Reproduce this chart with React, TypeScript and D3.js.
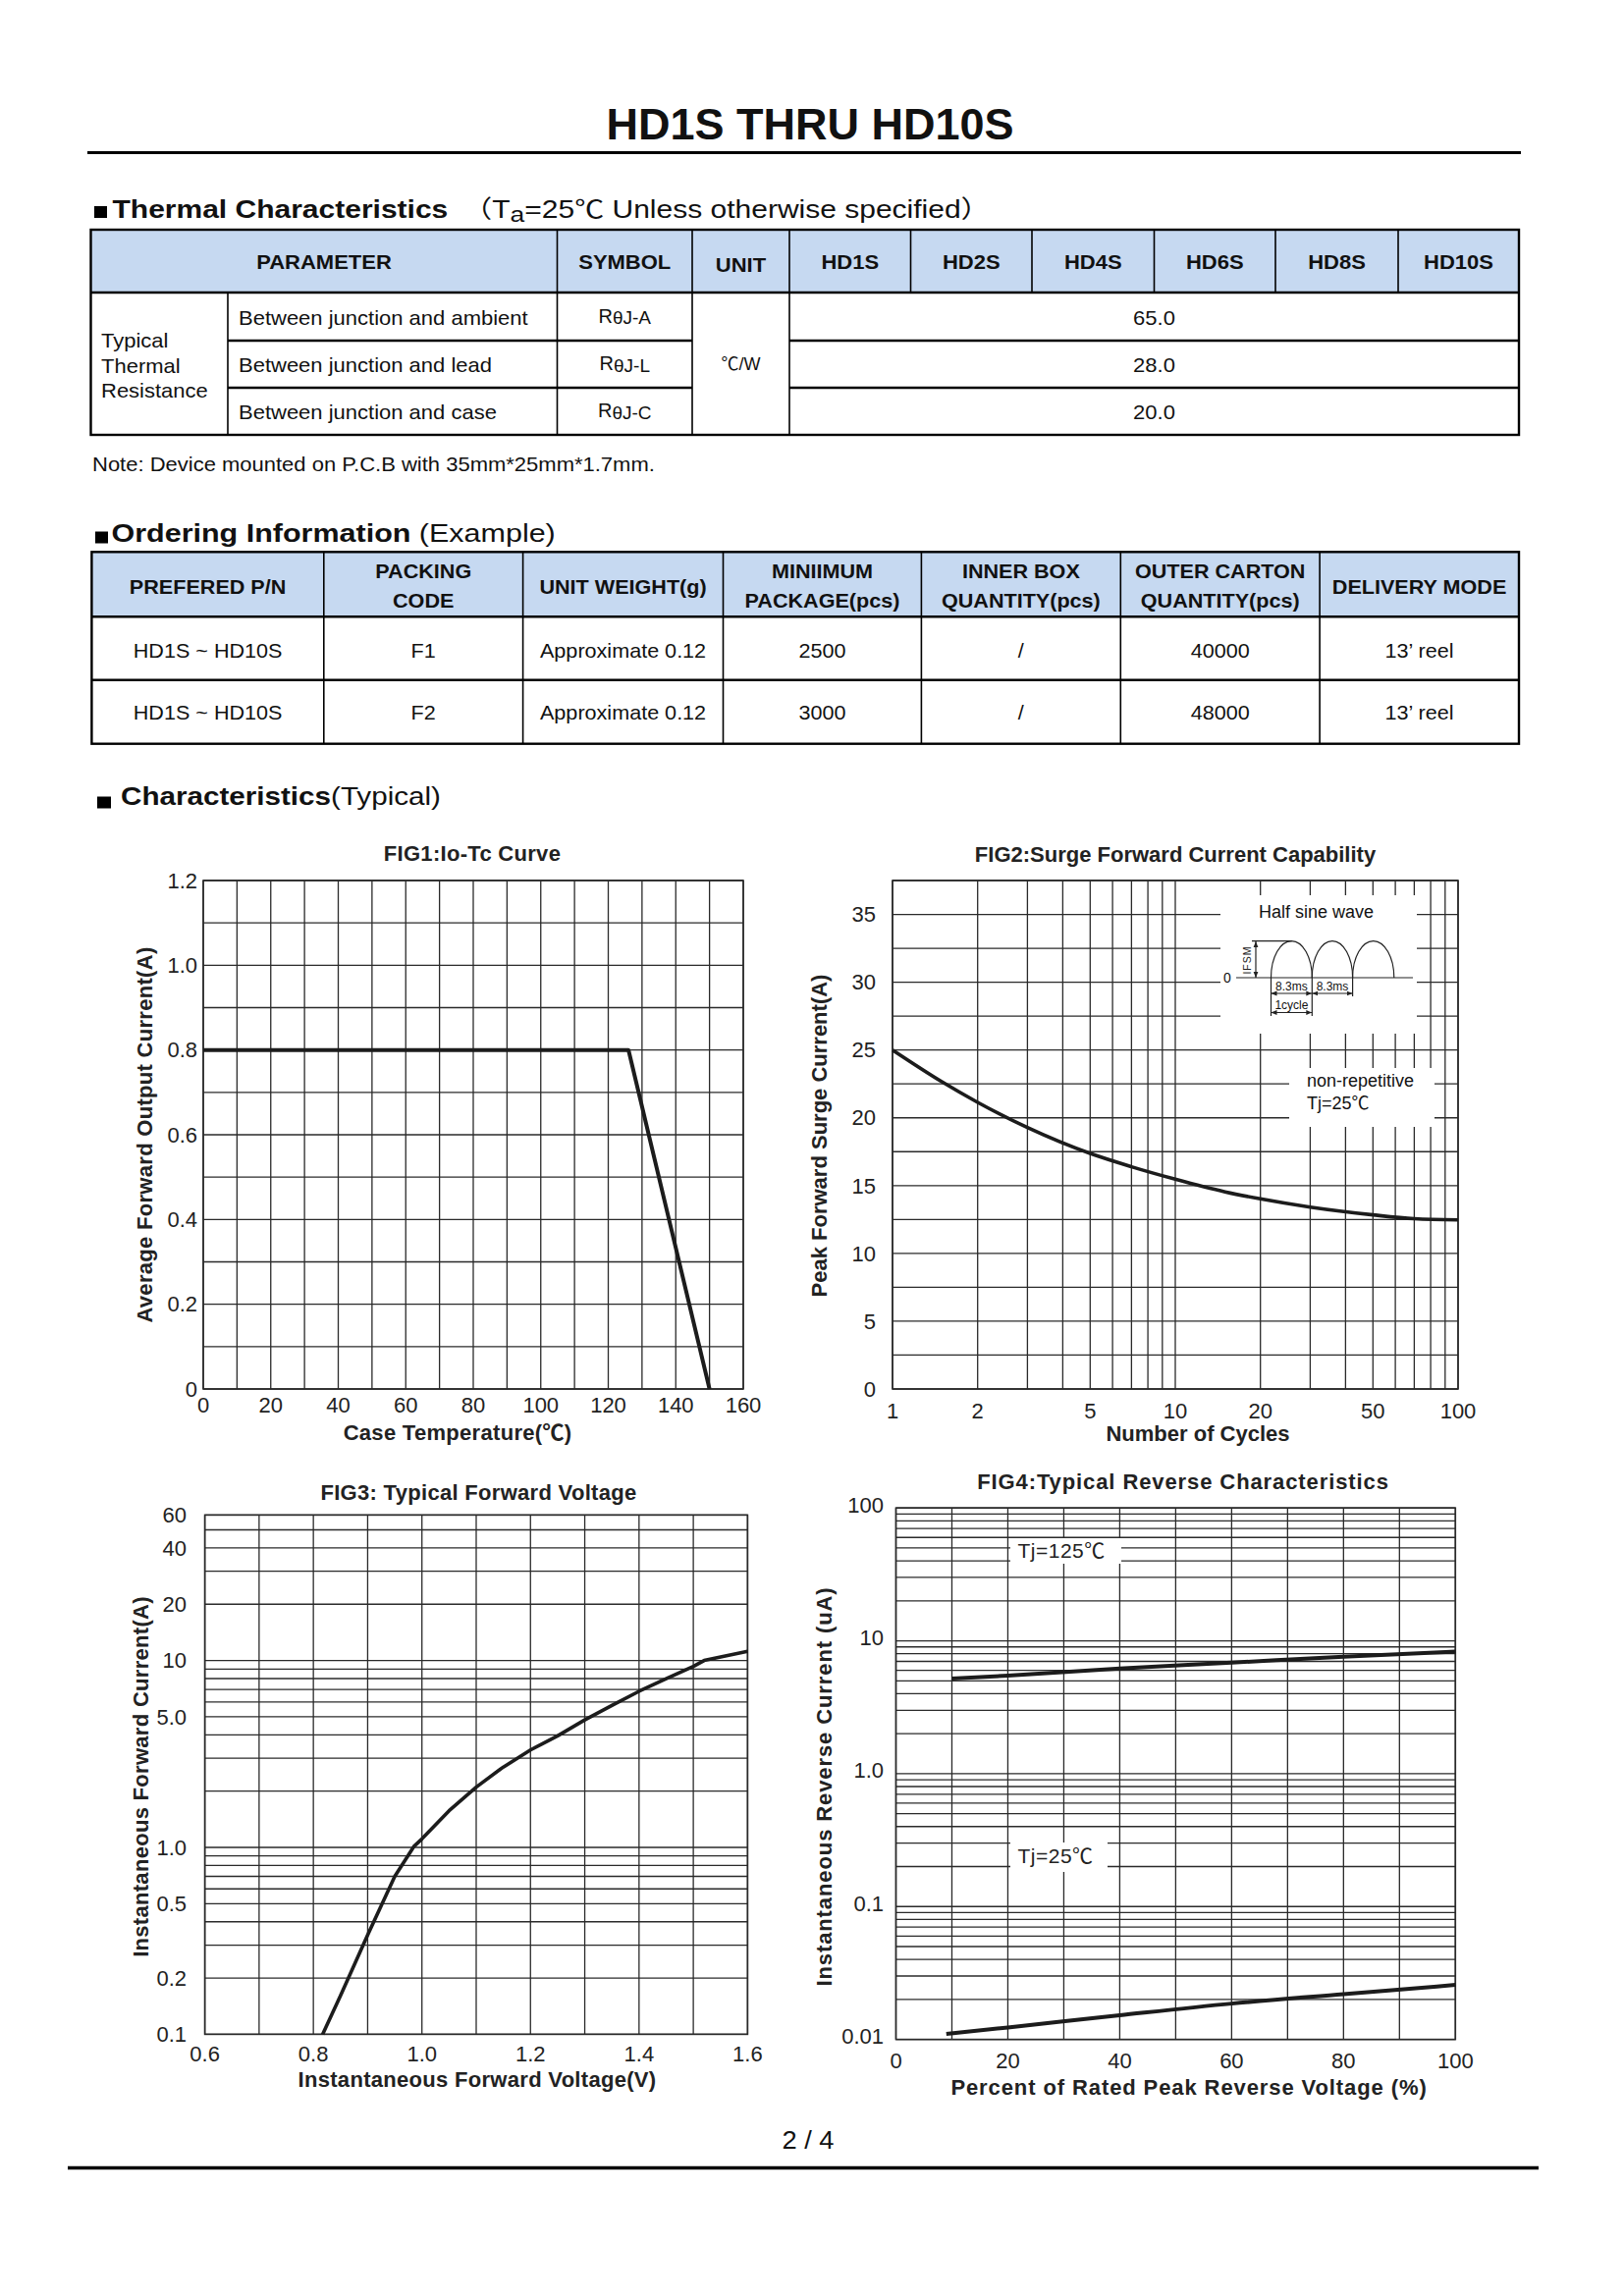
import React from 'react';
import * as d3 from 'd3';

const FONT = "'Liberation Sans', Arial, 'Noto Sans CJK SC', sans-serif";
const INK = '#1c1c1c';
const GRID = '#2a2a2a';
const HEAD_BG = '#c6d9f1';

// ================= DATA =================
const partNumbers = ['HD1S', 'HD2S', 'HD4S', 'HD6S', 'HD8S', 'HD10S'];
const thermalParameters = ['Between junction and ambient', 'Between junction and lead', 'Between junction and case'];
const thermalSymbolSuffixes = ['J-A', 'J-L', 'J-C'];
const thermalValues = ['65.0', '28.0', '20.0'];

const orderingHeaders = [
  ['PREFERED P/N'],
  ['PACKING', 'CODE'],
  ['UNIT WEIGHT(g)'],
  ['MINIIMUM', 'PACKAGE(pcs)'],
  ['INNER BOX', 'QUANTITY(pcs)'],
  ['OUTER CARTON', 'QUANTITY(pcs)'],
  ['DELIVERY MODE'],
];
const orderingRowF1 = ['HD1S ~ HD10S', 'F1', 'Approximate 0.12', '2500', '/', '40000', '13\u2019 reel'];
const orderingRowF2 = ['HD1S ~ HD10S', 'F2', 'Approximate 0.12', '3000', '/', '48000', '13\u2019 reel'];

// FIG1: Io-Tc curve
const fig1CaseTemp = [0, 126, 150];
const fig1Current = [0.8, 0.8, 0];
const fig1XTicks = [0, 20, 40, 60, 80, 100, 120, 140, 160];
const fig1YTicks = [0, 0.2, 0.4, 0.6, 0.8, 1.0, 1.2];
const fig1YTickLabels = ['0', '0.2', '0.4', '0.6', '0.8', '1.0', '1.2'];

// FIG2: Surge forward current
const fig2Cycles = [1, 1.5, 2, 3, 5, 7, 10, 15, 20, 30, 50, 70, 100];
const fig2SurgeCurrent = [25.0, 22.64, 21.14, 19.28, 17.37, 16.39, 15.47, 14.54, 14.02, 13.41, 12.84, 12.56, 12.47];
const fig2XTicks = [1, 2, 5, 10, 20, 50, 100];
const fig2XGrid = [1, 2, 3, 4, 5, 6, 7, 8, 9, 10, 20, 30, 40, 50, 60, 70, 80, 90, 100];
const fig2YTicks = [0, 5, 10, 15, 20, 25, 30, 35];

// FIG3: Typical forward voltage
const fig3Voltage = [0.817, 0.85, 0.9, 0.95, 0.985, 1.0, 1.05, 1.1, 1.15, 1.2, 1.25, 1.3, 1.35, 1.4, 1.45, 1.5, 1.52, 1.6];
const fig3Current = [0.1, 0.161, 0.34, 0.7, 1.01, 1.11, 1.57, 2.1, 2.69, 3.32, 3.95, 4.81, 5.75, 6.84, 7.98, 9.3, 10.0, 11.2];
const fig3XTicks = [0.6, 0.8, 1.0, 1.2, 1.4, 1.6];
const fig3XTickLabels = ['0.6', '0.8', '1.0', '1.2', '1.4', '1.6'];
const fig3XGrid = [0.6, 0.7, 0.8, 0.9, 1.0, 1.1, 1.2, 1.3, 1.4, 1.5, 1.6];
const fig3YTicks = [0.1, 0.2, 0.5, 1, 5, 10, 20, 40, 60];
const fig3YTickLabels = ['0.1', '0.2', '0.5', '1.0', '5.0', '10', '20', '40', '60'];
const fig3YGrid = [0.1, 0.2, 0.3, 0.4, 0.5, 0.6, 0.7, 0.8, 0.9, 1, 2, 3, 4, 5, 6, 7, 8, 9, 10, 20, 30, 40, 50, 60];

// FIG4: Typical reverse characteristics
const fig4Percent125 = [10, 20, 40, 60, 80, 100];
const fig4Current125 = [5.2, 5.47, 6.2, 6.85, 7.6, 8.3];
const fig4Percent25 = [9, 20, 40, 60, 80, 100];
const fig4Current25 = [0.011, 0.0123, 0.0152, 0.0186, 0.0219, 0.0257];
const fig4XTicks = [0, 20, 40, 60, 80, 100];
const fig4XGrid = [0, 10, 20, 30, 40, 50, 60, 70, 80, 90, 100];
const fig4YTicks = [0.01, 0.1, 1, 10, 100];
const fig4YTickLabels = ['0.01', '0.1', '1.0', '10', '100'];
const fig4YGrid = [1, 2, 3, 4, 5, 6, 7, 8, 9].flatMap((m) => [0.01, 0.1, 1, 10].map((d) => m * d)).concat([100]);

// ================= HELPERS =================
function ST(props: {
  x: number; y: number; size: number; sx?: number; anchor?: string; weight?: string;
  ls?: number; children: React.ReactNode; fill?: string;
}) {
  const { x, y, size, sx = 1, anchor = 'start', weight = 'normal', ls = 0, children, fill = '#111' } = props;
  return (
    <text
      transform={`translate(${x},${y}) scale(${sx},1)`}
      fontSize={size}
      fontFamily={FONT}
      fontWeight={weight}
      textAnchor={anchor as any}
      letterSpacing={ls}
      fill={fill}
    >
      {children}
    </text>
  );
}

interface SeriesDef { xs: number[]; ys: number[]; width: number; curve?: d3.CurveFactory }
interface FigProps {
  x: any; y: any;
  xGrid: number[]; yGrid: number[];
  xTicks: number[]; xLabels: string[];
  yTicks: number[]; yLabels: string[];
  xLabelY: number; yLabelX: number; yLabelDy?: string;
  title: string; titleX: number; titleY: number;
  xTitle: string; xTitleX: number; xTitleY: number;
  yTitle: string; yTitleX: number; yTitleY: number;
  ls?: number; tickSize?: number;
  series: SeriesDef[];
  overlay?: React.ReactNode;
}

function Figure(p: FigProps) {
  const [xa, xb] = p.x.range();
  const [ya, yb] = p.y.range();
  const left = Math.min(xa, xb), right = Math.max(xa, xb);
  const top = Math.min(ya, yb), bottom = Math.max(ya, yb);
  return (
    <g>
      <g stroke={GRID} strokeWidth={1.3}>
        {p.yGrid.map((v, i) => (
          <line key={'h' + i} x1={left} x2={right} y1={p.y(v)} y2={p.y(v)} />
        ))}
        {p.xGrid.map((v, i) => (
          <line key={'v' + i} x1={p.x(v)} x2={p.x(v)} y1={top} y2={bottom} />
        ))}
      </g>
      <rect x={left} y={top} width={right - left} height={bottom - top} fill="none" stroke={GRID} strokeWidth={1.6} />
      {p.overlay}
      {p.series.map((s, i) => {
        const line = d3
          .line<[number, number]>()
          .x((d) => p.x(d[0]))
          .y((d) => p.y(d[1]))
          .curve(s.curve ?? d3.curveLinear);
        const pts = d3.zip(s.xs, s.ys) as [number, number][];
        return (
          <path key={i} d={line(pts) ?? ''} fill="none" stroke={INK} strokeWidth={s.width}
            strokeLinejoin="round" strokeLinecap="butt" />
        );
      })}
      <g fontFamily={FONT} fontSize={p.tickSize ?? 22} fill="#222">
        {p.xTicks.map((v, i) => (
          <text key={'xt' + i} x={p.x(v)} y={p.xLabelY} textAnchor="middle">{p.xLabels[i]}</text>
        ))}
        {p.yTicks.map((v, i) => (
          <text key={'yt' + i} x={p.yLabelX} y={p.y(v)} dy={p.yLabelDy ?? '0.35em'} textAnchor="end">{p.yLabels[i]}</text>
        ))}
      </g>
      <g fontFamily={FONT} fontWeight="bold" fontSize={22} fill="#222" letterSpacing={p.ls ?? 0}>
        <text x={p.titleX} y={p.titleY} textAnchor="middle">{p.title}</text>
        <text x={p.xTitleX} y={p.xTitleY} textAnchor="middle">{p.xTitle}</text>
        <text transform={`translate(${p.yTitleX},${p.yTitleY}) rotate(-90)`} textAnchor="middle">{p.yTitle}</text>
      </g>
    </g>
  );
}

// ================= APP =================
export default function App() {
  // ---- thermal table layout ----
  const tCols = [92.5, 232, 567.5, 705, 804, 927.5, 1051, 1175.5, 1299, 1424, 1547];
  const tRows = [234, 298, 347, 395, 443];
  const rowMid = (i: number) => (tRows[i + 1] + tRows[i + 2]) / 2;

  // ---- ordering table layout ----
  const oCols = [93.4, 329.8, 532.6, 736.5, 938.4, 1141.3, 1344.1, 1547];
  const oRows = [562.3, 628.3, 692.7, 757.7];

  // ---- scales ----
  const f1x = d3.scaleLinear().domain([0, 160]).range([207, 757]);
  const f1y = d3.scaleLinear().domain([0, 1.2]).range([1415, 897]);

  const f2x = d3.scaleLog().domain([1, 100]).range([909, 1485]);
  const f2y = d3.scaleLinear().domain([0, 37.5]).range([1415, 897]);

  const f3x = d3.scaleLinear().domain([0.6, 1.6]).range([208.6, 761.4]);
  const f3y = d3.scaleLog().domain([0.1, 60]).range([2072.4, 1543.4]);

  const f4x = d3.scaleLinear().domain([0, 100]).range([912.5, 1482.3]);
  const f4y = d3.scaleLog().domain([0.01, 100]).range([2077.6, 1536.2]);

  const fig1XGrid = d3.range(0, 161, 10);
  const fig1YGrid = d3.range(0, 13).map((i) => i / 10);
  const fig2YGrid = d3.range(0, 16).map((i) => i * 2.5);

  const arches = [
    [1294.5, 1336.3],
    [1336.3, 1377.6],
    [1377.6, 1419.8],
  ];

  const fig2Overlay = (
    <g>
      <rect x={1243} y={912} width={200} height={141} fill="#fff" />
      <rect x={1313} y={1088} width={148} height={60} fill="#fff" />
      <ST x={1282} y={935} size={18}>Half sine wave</ST>
      <g stroke="#222" strokeWidth={1.2} fill="none">
        <line x1={1259} x2={1439} y1={996} y2={996} />
        {arches.map((a, i) => (
          <path key={i} d={`M${a[0]},996 A${(a[1] - a[0]) / 2},37.4 0 0 1 ${a[1]},996`} />
        ))}
        <line x1={1275} x2={1316} y1={958.6} y2={958.6} />
        <line x1={1279} x2={1279} y1={959} y2={996} markerStart="url(#arr)" markerEnd="url(#arr)" />
        <line x1={1294.5} x2={1294.5} y1={996} y2={1035} />
        <line x1={1336.3} x2={1336.3} y1={996} y2={1035} />
        <line x1={1377.6} x2={1377.6} y1={996} y2={1015} />
        <line x1={1294.5} x2={1336.3} y1={1012} y2={1012} markerStart="url(#arr)" markerEnd="url(#arr)" />
        <line x1={1336.3} x2={1377.6} y1={1012} y2={1012} markerStart="url(#arr)" markerEnd="url(#arr)" />
        <line x1={1294.5} x2={1336.3} y1={1031.5} y2={1031.5} markerStart="url(#arr)" markerEnd="url(#arr)" />
      </g>
      <ST x={1250} y={1001} size={14} anchor="middle">0</ST>
      <text transform="translate(1274,978) rotate(-90)" fontSize={10.5} fontFamily={FONT} textAnchor="middle" fill="#222" letterSpacing={1}>IFSM</text>
      <ST x={1315.4} y={1009} size={12} anchor="middle">8.3ms</ST>
      <ST x={1357} y={1009} size={12} anchor="middle">8.3ms</ST>
      <ST x={1315.4} y={1028} size={12} anchor="middle">1cycle</ST>
      <ST x={1331} y={1107} size={18}>non-repetitive</ST>
      <ST x={1331} y={1130} size={18}>Tj=25℃</ST>
    </g>
  );

  const fig4Overlay = (
    <g>
      <rect x={1029} y={1567} width={113} height={26} fill="#fff" />
      <rect x={1029} y={1877} width={99} height={30} fill="#fff" />
      <ST x={1036.5} y={1587} size={21} ls={0.5} fill="#222">Tj=125℃</ST>
      <ST x={1036.5} y={1898} size={21} ls={0.5} fill="#222">Tj=25℃</ST>
    </g>
  );

  return (
    <svg width={1654} height={2339} style={{ position: 'absolute', left: 0, top: 0, background: '#fff' }}>
      <defs>
        <marker id="arr" viewBox="0 0 10 10" refX="10" refY="5" markerWidth="5" markerHeight="5" orient="auto-start-reverse">
          <path d="M0,1 L10,5 L0,9 z" fill="#222" />
        </marker>
      </defs>
      <rect x={0} y={0} width={1654} height={2339} fill="#fff" />

      {/* Page title */}
      <ST x={825} y={142} size={45} weight="bold" anchor="middle">HD1S THRU HD10S</ST>
      <line x1={89} x2={1549} y1={155.5} y2={155.5} stroke="#000" strokeWidth={3} />

      {/* Thermal characteristics heading */}
      <rect x={96} y={210} width={13} height={12} fill="#000" />
      <g transform="translate(114.5,221.5) scale(1.2,1)">
        <text fontFamily={FONT} fontSize={25} fill="#111">
          <tspan fontWeight="bold">Thermal Characteristics</tspan>
          <tspan>{'\u3000\uFF08T'}</tspan>
          <tspan fontSize={22} dy={4}>a</tspan>
          <tspan dy={-4}>=25℃ Unless otherwise specified）</tspan>
        </text>
      </g>

      {/* Thermal table */}
      <rect x={tCols[0]} y={tRows[0]} width={tCols[10] - tCols[0]} height={tRows[1] - tRows[0]} fill={HEAD_BG} />
      <g stroke="#000" fill="none">
        <rect x={tCols[0]} y={tRows[0]} width={tCols[10] - tCols[0]} height={tRows[4] - tRows[0]} strokeWidth={2.4} />
        <line x1={tCols[0]} x2={tCols[10]} y1={tRows[1]} y2={tRows[1]} strokeWidth={2.6} />
        {[2, 3, 4, 5, 6, 7, 8, 9].map((c) => (
          <line key={'th' + c} x1={tCols[c]} x2={tCols[c]} y1={tRows[0]} y2={tRows[1]} strokeWidth={1.6} />
        ))}
        {[1, 2, 3, 4].map((c) => (
          <line key={'tb' + c} x1={tCols[c]} x2={tCols[c]} y1={tRows[1]} y2={tRows[4]} strokeWidth={1.6} />
        ))}
        {[2, 3].map((r) => (
          <g key={'tr' + r}>
            <line x1={tCols[1]} x2={tCols[3]} y1={tRows[r]} y2={tRows[r]} strokeWidth={2.4} />
            <line x1={tCols[4]} x2={tCols[10]} y1={tRows[r]} y2={tRows[r]} strokeWidth={2.4} />
          </g>
        ))}
      </g>
      <ST x={(tCols[0] + tCols[2]) / 2} y={274} size={20} sx={1.1} weight="bold" anchor="middle">PARAMETER</ST>
      <ST x={(tCols[2] + tCols[3]) / 2} y={274} size={20} sx={1.1} weight="bold" anchor="middle">SYMBOL</ST>
      <ST x={(tCols[3] + tCols[4]) / 2} y={277} size={20} sx={1.1} weight="bold" anchor="middle">UNIT</ST>
      {partNumbers.map((pn, i) => (
        <ST key={pn} x={(tCols[4 + i] + tCols[5 + i]) / 2} y={274} size={20} sx={1.1} weight="bold" anchor="middle">{pn}</ST>
      ))}
      {thermalParameters.map((t, i) => (
        <g key={t}>
          <ST x={243} y={rowMid(i) + 8} size={20} sx={1.1}>{t}</ST>
          <text x={(tCols[2] + tCols[3]) / 2} y={rowMid(i) + 6} fontFamily={FONT} fontSize={20} textAnchor="middle" fill="#111">
            <tspan>R</tspan>
            <tspan fontSize={19} dy={1.5}>{'\u03B8' + thermalSymbolSuffixes[i]}</tspan>
          </text>
          <ST x={(tCols[4] + tCols[10]) / 2} y={rowMid(i) + 8} size={20} sx={1.1} anchor="middle">{thermalValues[i]}</ST>
        </g>
      ))}
      <ST x={103} y={354} size={20} sx={1.1}>Typical</ST>
      <ST x={103} y={380} size={20} sx={1.1}>Thermal</ST>
      <ST x={103} y={405} size={20} sx={1.1}>Resistance</ST>
      <ST x={(tCols[3] + tCols[4]) / 2} y={377} size={18} anchor="middle">℃/W</ST>

      <ST x={94} y={480} size={20} sx={1.1}>Note: Device mounted on P.C.B with 35mm*25mm*1.7mm.</ST>

      {/* Ordering information heading */}
      <rect x={97} y={541.5} width={13} height={12} fill="#000" />
      <g transform="translate(113.5,552) scale(1.22,1)">
        <text fontFamily={FONT} fontSize={25} fill="#111">
          <tspan fontWeight="bold">Ordering Information</tspan>
          <tspan> (Example)</tspan>
        </text>
      </g>

      {/* Ordering table */}
      <rect x={oCols[0]} y={oRows[0]} width={oCols[7] - oCols[0]} height={oRows[1] - oRows[0]} fill={HEAD_BG} />
      <g stroke="#000" fill="none">
        <rect x={oCols[0]} y={oRows[0]} width={oCols[7] - oCols[0]} height={oRows[3] - oRows[0]} strokeWidth={2.4} />
        {[1, 2].map((r) => (
          <line key={'or' + r} x1={oCols[0]} x2={oCols[7]} y1={oRows[r]} y2={oRows[r]} strokeWidth={2.6} />
        ))}
        {[1, 2, 3, 4, 5, 6].map((c) => (
          <line key={'oc' + c} x1={oCols[c]} x2={oCols[c]} y1={oRows[0]} y2={oRows[3]} strokeWidth={1.6} />
        ))}
      </g>
      {orderingHeaders.map((h, i) => {
        const cx = (oCols[i] + oCols[i + 1]) / 2;
        return h.length === 1 ? (
          <ST key={'oh' + i} x={cx} y={605} size={20} sx={1.08} weight="bold" anchor="middle">{h[0]}</ST>
        ) : (
          <g key={'oh' + i}>
            <ST x={cx} y={589} size={20} sx={1.08} weight="bold" anchor="middle">{h[0]}</ST>
            <ST x={cx} y={619} size={20} sx={1.08} weight="bold" anchor="middle">{h[1]}</ST>
          </g>
        );
      })}
      {[orderingRowF1, orderingRowF2].map((row, r) =>
        row.map((cell, i) => (
          <ST key={'od' + r + i} x={(oCols[i] + oCols[i + 1]) / 2} y={r === 0 ? 670 : 733} size={20} sx={1.08} anchor="middle">{cell}</ST>
        ))
      )}

      {/* Characteristics heading */}
      <rect x={99} y={811.5} width={14} height={12} fill="#000" />
      <g transform="translate(123,819.5) scale(1.14,1)">
        <text fontFamily={FONT} fontSize={26} fill="#111">
          <tspan fontWeight="bold">Characteristics</tspan>
          <tspan>(Typical)</tspan>
        </text>
      </g>

      {/* FIG1 */}
      <Figure
        x={f1x} y={f1y}
        xGrid={fig1XGrid} yGrid={fig1YGrid}
        xTicks={fig1XTicks} xLabels={fig1XTicks.map(String)}
        yTicks={fig1YTicks} yLabels={fig1YTickLabels}
        xLabelY={1439} yLabelX={201}
        title="FIG1:Io-Tc Curve" titleX={481} titleY={877}
        xTitle="Case Temperature(℃)" xTitleX={466} xTitleY={1467}
        yTitle="Average Forward Output Current(A)" yTitleX={155} yTitleY={1156}
        ls={0.3}
        series={[{ xs: fig1CaseTemp, ys: fig1Current, width: 4 }]}
      />

      {/* FIG2 */}
      <Figure
        x={f2x} y={f2y}
        xGrid={fig2XGrid} yGrid={fig2YGrid}
        xTicks={fig2XTicks} xLabels={fig2XTicks.map(String)}
        yTicks={fig2YTicks} yLabels={fig2YTicks.map(String)}
        xLabelY={1445} yLabelX={892}
        title="FIG2:Surge Forward Current Capability" titleX={1197} titleY={878}
        xTitle="Number of Cycles" xTitleX={1220} xTitleY={1468}
        yTitle="Peak Forward Surge Current(A)" yTitleX={842} yTitleY={1157}
        series={[{ xs: fig2Cycles, ys: fig2SurgeCurrent, width: 3.6, curve: d3.curveMonotoneX }]}
        overlay={fig2Overlay}
      />

      {/* FIG3 */}
      <Figure
        x={f3x} y={f3y}
        xGrid={fig3XGrid} yGrid={fig3YGrid}
        xTicks={fig3XTicks} xLabels={fig3XTickLabels}
        yTicks={fig3YTicks} yLabels={fig3YTickLabels}
        xLabelY={2100} yLabelX={190}
        title="FIG3: Typical Forward Voltage" titleX={487.5} titleY={1528}
        xTitle="Instantaneous Forward Voltage(V)" xTitleX={486} xTitleY={2126}
        yTitle="Instantaneous Forward Current(A)" yTitleX={151} yTitleY={1810}
        ls={0.3}
        series={[{ xs: fig3Voltage, ys: fig3Current, width: 3.6 }]}
      />

      {/* FIG4 */}
      <Figure
        x={f4x} y={f4y}
        xGrid={fig4XGrid} yGrid={fig4YGrid}
        xTicks={fig4XTicks} xLabels={fig4XTicks.map(String)}
        yTicks={fig4YTicks} yLabels={fig4YTickLabels}
        xLabelY={2107} yLabelX={900} yLabelDy="0.2em"
        title="FIG4:Typical Reverse Characteristics" titleX={1205} titleY={1517}
        xTitle="Percent of Rated Peak Reverse Voltage  (%)" xTitleX={1211} xTitleY={2134}
        yTitle="Instantaneous Reverse Current (uA)" yTitleX={847} yTitleY={1820}
        ls={0.9}
        series={[
          { xs: fig4Percent125, ys: fig4Current125, width: 4, curve: d3.curveMonotoneX },
          { xs: fig4Percent25, ys: fig4Current25, width: 4, curve: d3.curveMonotoneX },
        ]}
        overlay={fig4Overlay}
      />

      {/* Footer */}
      <ST x={823} y={2189} size={26} sx={1.05} anchor="middle">2 / 4</ST>
      <line x1={69} x2={1567} y1={2208.5} y2={2208.5} stroke="#000" strokeWidth={3.3} />
    </svg>
  );
}
